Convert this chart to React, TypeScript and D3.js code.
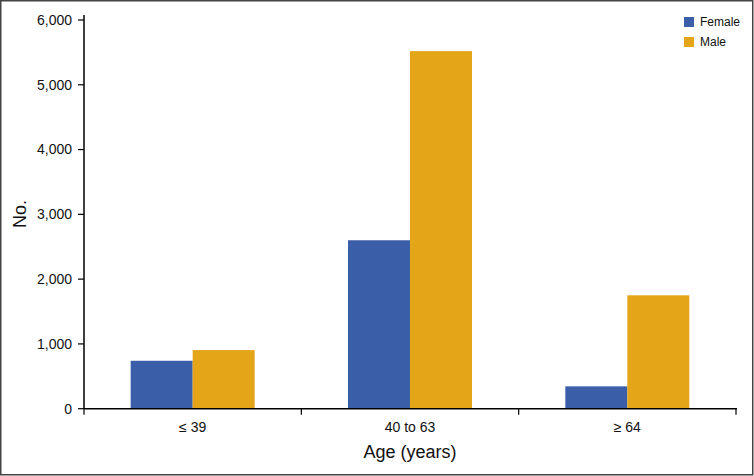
import React from "react";
import * as d3 from "d3";

const categories = ["≤ 39", "40 to 63", "≥ 64"];
const seriesNames = ["Female", "Male"];
const femaleValues = [740, 2600, 345];
const maleValues = [905, 5520, 1750];
const yTicks = [0, 1000, 2000, 3000, 4000, 5000, 6000];
const colors = ["#3a5ea8", "#e4a519"];

const W = 754;
const H = 476;
const left = 84;
const right = 736;
const top = 20;
const bottom = 408.7;

export default function App() {
  const x = d3.scaleBand<string>().domain(categories).range([left, right]).paddingInner(0).paddingOuter(0);
  const groupWidth = 124;
  const inner = d3.scaleBand<string>().domain(seriesNames).range([0, groupWidth]);
  const y = d3.scaleLinear().domain([0, 6000]).range([bottom, top]);
  const fmt = d3.format(",");
  const font = "Liberation Sans, Arial, sans-serif";
  const series = [femaleValues, maleValues];
  const boundaries = [left, ...categories.map((c) => (x(c) as number) + x.bandwidth())];

  return (
    <svg width={W} height={H} style={{ position: "absolute", left: 0, top: 0 }} fontFamily={font}>
      <rect x={0} y={0} width={W} height={H} fill="#fff" />
      <rect x={0.75} y={0.75} width={752} height={474} fill="none" stroke="#444" strokeWidth={1.5} />
      {categories.map((c, i) =>
        series.map((vals, s) => {
          const cx = (x(c) as number) + x.bandwidth() / 2 - groupWidth / 2 + (inner(seriesNames[s]) as number);
          return (
            <rect
              key={c + s}
              x={cx}
              y={y(vals[i])}
              width={inner.bandwidth()}
              height={y(0) - y(vals[i])}
              fill={colors[s]}
            />
          );
        })
      )}
      {/* y axis */}
      <line x1={left} x2={left} y1={15} y2={bottom} stroke="#000" strokeWidth={1.5} />
      {yTicks.map((t) => (
        <g key={t}>
          <line x1={left - 6} x2={left} y1={y(t)} y2={y(t)} stroke="#000" strokeWidth={1.2} />
          <text x={left - 12} y={y(t)} dy="0.35em" textAnchor="end" fontSize={14} fill="#111">
            {fmt(t)}
          </text>
        </g>
      ))}
      {/* x axis */}
      <line x1={left} x2={right + 1} y1={bottom} y2={bottom} stroke="#000" strokeWidth={1.5} />
      {boundaries.map((b, i) => (
        <line key={i} x1={b} x2={b} y1={bottom} y2={bottom + 6} stroke="#000" strokeWidth={1.2} />
      ))}
      {categories.map((c) => (
        <text key={c} x={(x(c) as number) + x.bandwidth() / 2} y={432} textAnchor="middle" fontSize={14} fill="#111">
          {c}
        </text>
      ))}
      <text x={410} y={458} textAnchor="middle" fontSize={18} fill="#111">
        Age (years)
      </text>
      <text transform={`translate(26, ${214}) rotate(-90)`} textAnchor="middle" fontSize={18} fill="#111">
        No.
      </text>
      {/* legend */}
      {seriesNames.map((n, i) => (
        <g key={n} transform={`translate(684, ${17 + i * 20})`}>
          <rect x={0} y={0} width={10} height={10} fill={colors[i]} />
          <text x={16} y={5} dy="0.35em" fontSize={12} fill="#111">
            {n}
          </text>
        </g>
      ))}
    </svg>
  );
}
